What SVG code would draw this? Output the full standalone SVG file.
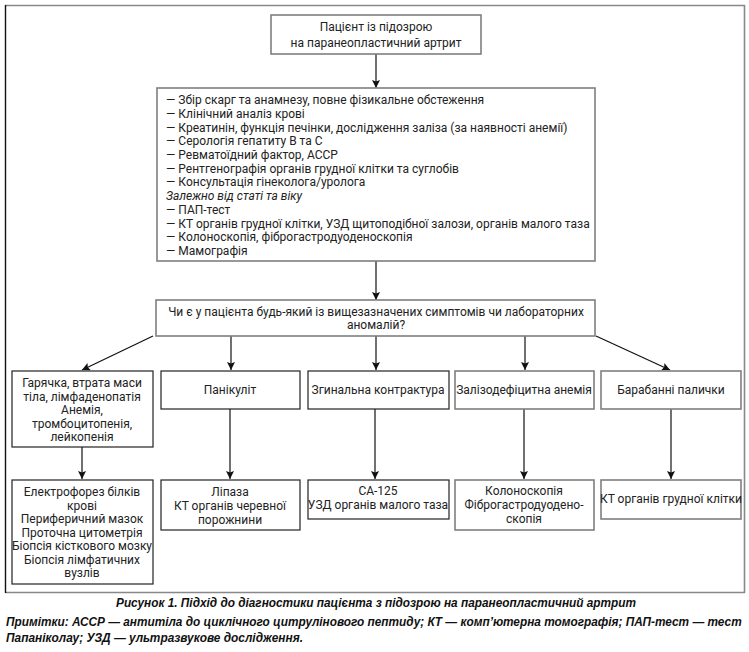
<svg xmlns="http://www.w3.org/2000/svg" width="749" height="652" viewBox="0 0 749 652">
<style>
text{font-family:Roboto,"Liberation Sans",sans-serif;font-size:12px;fill:#222}
.c{text-anchor:middle}
.bk{fill:#fff;stroke:#222;stroke-width:1.2}
.gr{fill:#fff;stroke:#7f7f7f;stroke-width:1.6}
.ln{stroke:#111;stroke-width:1.2;fill:none;marker-end:url(#ah)}
.cap{font-family:"Liberation Sans",sans-serif;font-weight:bold;font-style:italic;font-size:12.5px;fill:#111}
</style>
<defs>
<marker id="ah" viewBox="0 0 10 10" refX="10" refY="5" markerWidth="8" markerHeight="8" markerUnits="userSpaceOnUse" orient="auto">
<path d="M0,0 L10,5 L0,10 L2,5 z" fill="#111"/>
</marker>
</defs>
<rect width="749" height="652" fill="#fff"/>
<g id="frame">
<line x1="5" y1="5.5" x2="745" y2="5.5" stroke="#888" stroke-width="1.6"/>
<line x1="744.5" y1="5" x2="744.5" y2="593" stroke="#888" stroke-width="1.6"/>
<line x1="5" y1="592.5" x2="745" y2="592.5" stroke="#888" stroke-width="1.6"/>
<line x1="5.5" y1="5" x2="5.5" y2="593" stroke="#111" stroke-width="1.4"/>
</g>
<g id="connectors">
<line class="ln" x1="376" y1="54" x2="376" y2="88"/>
<line class="ln" x1="376" y1="261" x2="376" y2="300"/>
<line class="ln" x1="153" y1="336" x2="82" y2="370"/>
<line class="ln" x1="231" y1="336" x2="231" y2="370"/>
<line class="ln" x1="376" y1="336" x2="376" y2="370"/>
<line class="ln" x1="525" y1="336" x2="525" y2="370"/>
<line class="ln" x1="596" y1="336" x2="670" y2="370"/>
<line class="ln" x1="82" y1="447" x2="82" y2="479"/>
<line class="ln" x1="230" y1="409" x2="230" y2="479"/>
<line class="ln" x1="375" y1="409" x2="375" y2="479"/>
<line class="ln" x1="524" y1="409" x2="524" y2="479"/>
<line class="ln" x1="671" y1="409" x2="671" y2="479"/>
</g>
<g id="start">
<rect class="gr" x="271" y="15" width="210" height="39"/>
<text class="c" x="376" y="31">Пацієнт із підозрою</text>
<text class="c" x="376" y="47">на паранеопластичний артрит</text>
</g>
<g id="exams">
<rect class="gr" x="157" y="88" width="438" height="173"/>
<text x="166" y="104">— Збір скарг та анамнезу, повне фізикальне обстеження</text>
<text x="166" y="117.7">— Клінічний аналіз крові</text>
<text x="166" y="131.5">— Креатинін, функція печінки, дослідження заліза (за наявності анемії)</text>
<text x="166" y="145.2">— Серологія гепатиту В та С</text>
<text x="166" y="158.9">— Ревматоїдний фактор, АССР</text>
<text x="166" y="172.6">— Рентгенографія органів грудної клітки та суглобів</text>
<text x="166" y="186.4">— Консультація гінеколога/уролога</text>
<text x="166" y="200.1" font-style="italic">Залежно від статі та віку</text>
<text x="166" y="213.8">— ПАП-тест</text>
<text x="166" y="227.6">— КТ органів грудної клітки, УЗД щитоподібної залози, органів малого таза</text>
<text x="166" y="241.3">— Колоноскопія, фіброгастродуоденоскопія</text>
<text x="166" y="255">— Мамографія</text>
</g>
<g id="question">
<rect class="gr" x="156" y="300" width="439" height="36"/>
<text class="c" x="376" y="315.5">Чи є у пацієнта будь-який із вищезазначених симптомів чи лабораторних</text>
<text class="c" x="376" y="329">аномалій?</text>
</g>
<g id="s1">
<rect class="bk" x="12" y="371" width="141" height="76"/>
<text class="c" x="82" y="387">Гарячка, втрата маси</text>
<text class="c" x="82" y="400.5">тіла, лімфаденопатія</text>
<text class="c" x="82" y="414">Анемія,</text>
<text class="c" x="82" y="427.5">тромбоцитопенія,</text>
<text class="c" x="82" y="441">лейкопенія</text>
</g>
<g id="s2">
<rect class="bk" x="161" y="371" width="139" height="38"/>
<text class="c" x="230" y="394">Панікуліт</text>
</g>
<g id="s3">
<rect class="bk" x="308" y="371" width="141" height="38"/>
<text class="c" x="378" y="394">Згинальна контрактура</text>
</g>
<g id="s4">
<rect class="gr" x="455" y="371" width="139" height="38"/>
<text class="c" x="524" y="394">Залізодефіцитна анемія</text>
</g>
<g id="s5">
<rect class="gr" x="601" y="371" width="140" height="38"/>
<text class="c" x="671" y="394">Барабанні палички</text>
</g>
<g id="t1">
<rect class="bk" x="12" y="480" width="141" height="104"/>
<text class="c" x="82" y="496">Електрофорез білків</text>
<text class="c" x="82" y="509.5">крові</text>
<text class="c" x="82" y="523">Периферичний мазок</text>
<text class="c" x="82" y="536.5">Проточна цитометрія</text>
<text class="c" x="82" y="550">Біопсія кісткового мозку</text>
<text class="c" x="82" y="563.5">Біопсія лімфатичних</text>
<text class="c" x="82" y="577">вузлів</text>
</g>
<g id="t2">
<rect class="bk" x="161" y="480" width="139" height="50"/>
<text class="c" x="230" y="496">Ліпаза</text>
<text class="c" x="230" y="510">КТ органів черевної</text>
<text class="c" x="230" y="524">порожнини</text>
</g>
<g id="t3">
<rect class="bk" x="308" y="480" width="141" height="39"/>
<text class="c" x="378" y="495">СА-125</text>
<text class="c" x="378" y="508.5">УЗД органів малого таза</text>
</g>
<g id="t4">
<rect class="gr" x="455" y="480" width="139" height="50"/>
<text class="c" x="524" y="495">Колоноскопія</text>
<text class="c" x="524" y="509">Фіброгастродуодено-</text>
<text class="c" x="524" y="523">скопія</text>
</g>
<g id="t5">
<rect class="gr" x="601" y="480" width="140" height="39"/>
<text class="c" x="671" y="503">КТ органів грудної клітки</text>
</g>
<g id="caption">
<text class="cap" x="116" y="607" textLength="520" lengthAdjust="spacingAndGlyphs">Рисунок 1. Підхід до діагностики пацієнта з підозрою на паранеопластичний артрит</text>
<text class="cap" transform="translate(6,626) scale(0.88,1)" x="0" y="0" font-size="12.2" textLength="836" lengthAdjust="spacingAndGlyphs">Примітки: АССР — антитіла до циклічного цитрулінового пептиду; КТ — комп’ютерна томографія; ПАП-тест — тест</text>
<text class="cap" x="6" y="642" textLength="297" lengthAdjust="spacingAndGlyphs">Папаніколау; УЗД — ультразвукове дослідження.</text>
</g>
</svg>
